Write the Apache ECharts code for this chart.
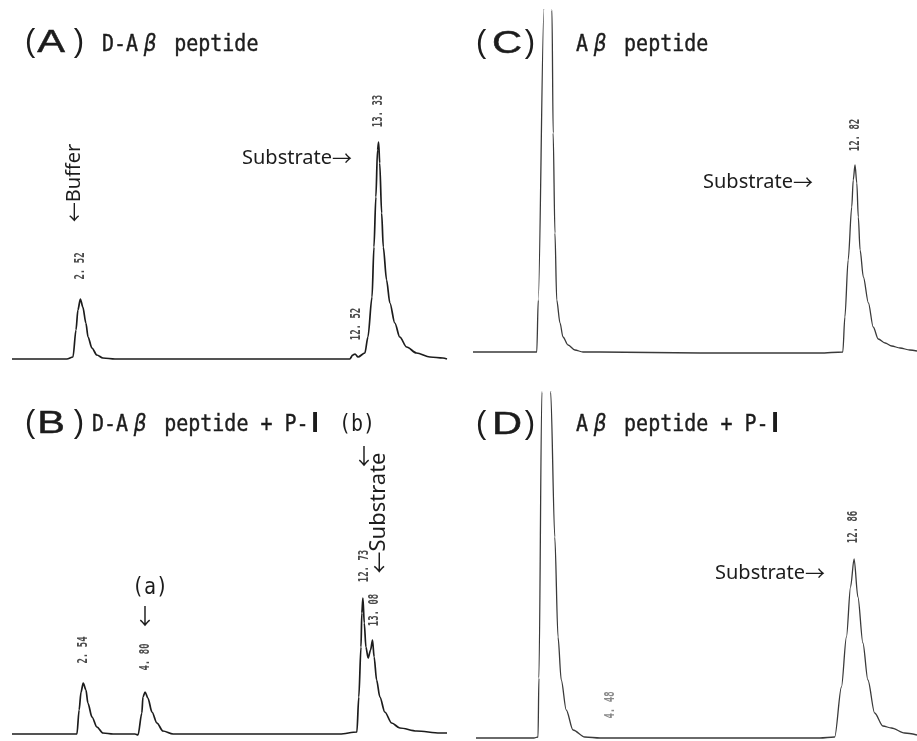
<!DOCTYPE html>
<html>
<head>
<meta charset="utf-8">
<script src="https://cdn.jsdelivr.net/npm/echarts@6/dist/echarts.min.js"></script>
<style>
  html, body { margin: 0; padding: 0; background: #ffffff; }
  #chart { width: 917px; height: 741px; }
</style>
</head>
<body>
<div id="chart"></div>
<script>
// ---- Data (retention time in min, detector response in arbitrary units) ----
const traceA = [[0,0],[2.00,0],[2.22,2],[2.33,29],[2.40,49],[2.49,60],[2.58,52],[2.69,36],[2.77,22],[2.91,11],[3.09,4],[3.31,1],[3.75,0],
  [11.94,0],[12.30,0],[12.41,4],[12.49,5],[12.60,2],[12.85,6],[12.96,22],[13.11,62],[13.18,112],[13.25,162],[13.31,209],[13.35,217],
  [13.39,196],[13.46,146],[13.52,112],[13.64,79],[13.76,56],[13.94,36],[14.12,22],[14.37,12],[14.73,6],[15.22,2],[15.69,1],[15.84,0]];
const traceB = [[0,0],[2.19,0],[2.37,0],[2.45,24],[2.52,42],[2.60,51],[2.70,44],[2.77,31],[2.92,17],[3.10,7],[3.32,1],[3.69,0],
  [4.49,0],[4.60,-1],[4.74,21],[4.78,37],[4.86,42],[4.96,36],[5.11,22],[5.29,11],[5.51,3],[5.88,0],
  [11.97,0],[12.59,2],[12.66,37],[12.74,87],[12.77,121],[12.81,136],[12.86,111],[12.92,87],[13.00,76],[13.09,84],[13.16,94],
  [13.22,77],[13.31,54],[13.43,37],[13.61,22],[13.86,11],[14.16,6],[14.77,3],[15.62,1],[15.88,1]];
const traceC = [[0,0],[2.01,0],[2.14,0],[2.19,52],[2.38,342],[2.50,570],[2.65,342],[2.69,219],[2.75,119],[2.81,52],[2.92,29],
  [3.02,15],[3.19,7],[3.42,2],[3.69,0],[4.26,0],[7.62,-1],[11.64,-1],[12.41,0],[12.48,35],[12.59,92],[12.71,145],[12.76,172],
  [12.82,187],[12.88,169],[12.93,135],[12.99,102],[13.10,75],[13.27,49],[13.43,25],[13.60,13],[13.83,9],[14.05,6],[14.33,4],[14.66,2],[14.90,1]];
const traceD = [[0,0],[1.97,0],[2.11,1],[2.14,60],[2.24,346],[2.40,580],[2.54,346],[2.68,201],[2.79,101],[2.90,58],[3.07,28],
  [3.30,8],[3.70,1],[4.22,0],[11.70,0],[12.20,1],[12.43,51],[12.60,101],[12.74,151],[12.86,179],[12.99,141],[13.16,95],
  [13.33,58],[13.56,25],[13.84,12],[14.13,10],[14.58,5],[15.00,3]];

const panelLetters = ['A', 'B', 'C', 'D'];
const panelTitles = ['D-Aβ peptide', 'D-Aβ peptide + P-Ⅰ', 'Aβ peptide', 'Aβ peptide + P-Ⅰ'];
const rtLabelsA = ['2. 52', '12. 52', '13. 33'];
const rtLabelsB = ['2. 54', '4. 80', '12. 73', '13. 08'];
const rtLabelsC = ['12. 82'];
const rtLabelsD = ['4. 48', '12. 86'];

// ---- Layout ----
const grids = [
  { left: 12,  top: 18,  width: 435, height: 351 },
  { left: 12,  top: 380, width: 435, height: 361 },
  { left: 473, top: 10,  width: 444, height: 352 },
  { left: 476, top: 392, width: 441, height: 349 }
];
const xRanges = [[0, 15.84], [0, 15.88], [0, 14.9], [0, 15.0]];
const yRanges = [[-10, 341], [-7, 354], [-10, 342], [-3, 346]];
const traces = [traceA, traceB, traceC, traceD];
const lineStyles = [
  { color: '#1c1c1c', width: 1.7 },
  { color: '#1c1c1c', width: 1.7 },
  { color: '#3a3a3a', width: 1.3 },
  { color: '#3a3a3a', width: 1.3 }
];

const MONO = '"DejaVu Sans Mono", "Liberation Mono", monospace';
const SANS = '"Noto Sans", "Liberation Sans", sans-serif';
const CJK = '"Noto Sans CJK JP", "Noto Sans", sans-serif';
const INK = '#1c1c1c';

function text(x, y, str, style, el) {
  return Object.assign({
    type: 'text', x: x, y: y, silent: true,
    style: Object.assign({ text: str, fill: INK, align: 'center', verticalAlign: 'middle' }, style)
  }, el || {});
}

function heading(letterIdx, parenLeft, letterX, parenRight, midY) {
  const f = { fontFamily: '"Liberation Sans", sans-serif', fontSize: 31 };
  return [
    text(parenLeft, midY - 1, '(', Object.assign({ align: 'left' }, f)),
    text(letterX, midY, panelLetters[letterIdx],
      Object.assign({}, f, { fontSize: 32, stroke: INK, lineWidth: 0.5 }), { scaleX: 1.3 }),
    text(parenRight, midY - 1, ')', Object.assign({ align: 'right' }, f))
  ];
}

function title(idx, left, midY) {
  const s = panelTitles[idx];
  const k = s.indexOf('β');
  let rest = s.slice(k + 1);
  let tail = '';
  const r = rest.indexOf('Ⅰ');
  if (r >= 0) { tail = '{r|Ⅰ}'; rest = rest.slice(0, r); }
  const rich = '{m|' + s.slice(0, k) + '}{g|β}{m|' + rest + '}' + tail;
  const base = { fontFamily: MONO, fontSize: 20, fill: INK, stroke: INK, lineWidth: 0.35 };
  return text(left, midY, rich, {
    align: 'left',
    rich: {
      m: base,
      g: Object.assign({}, base, { fontFamily: '"DejaVu Sans", sans-serif', fontStyle: 'italic', width: 24, align: 'center' }),
      r: Object.assign({}, base, { fontFamily: '"Liberation Serif", serif', fontWeight: 'bold', fontSize: 21, width: 12, align: 'center', lineWidth: 1 })
    }
  }, { scaleY: 1.15 });
}

// label with a CJK (long) arrow before or after the word
function arrowLabel(x, y, word, arrow, arrowFirst, size, align, el) {
  const rich = arrowFirst ? '{a|' + arrow + '}{w|' + word + '}' : '{w|' + word + '}{a|' + arrow + '}';
  return text(x, y, rich, {
    align: align,
    rich: {
      w: { fontFamily: SANS, fontSize: size, fill: INK },
      a: { fontFamily: CJK, fontSize: size, fill: INK }
    }
  }, el);
}

function rt(x, y, str, color) {
  return text(x, y, str, { fontFamily: MONO, fontWeight: 'bold', fontSize: 9, fill: color || '#4a4a4a' },
    { rotation: Math.PI / 2, scaleY: 1.5 });
}

const V = { rotation: Math.PI / 2 };

const graphics = [].concat(
  heading(0, 25, 51, 84, 43),
  heading(1, 25, 51, 84, 424),
  heading(2, 476, 507, 535, 44),
  heading(3, 476, 507, 535, 425),
  [
    title(0, 102, 45),
    title(1, 92, 425),
    title(2, 576, 45),
    title(3, 576, 425),
    // panel A notes
    arrowLabel(242, 158, 'Substrate', '→', false, 20, 'left'),
    arrowLabel(74, 183, 'Buffer', '←', true, 20, 'center', V),
    rt(80, 266, rtLabelsA[0]),
    rt(356, 324, rtLabelsA[1]),
    rt(378, 111, rtLabelsA[2]),
    // panel B notes
    text(150, 588, '(a)', { fontFamily: MONO, fontSize: 20 }, { scaleY: 1.15 }),
    text(145, 616, '↓', { fontFamily: CJK, fontSize: 22 }),
    text(357, 425, '(b)', { fontFamily: MONO, fontSize: 20 }, { scaleY: 1.15 }),
    text(364, 456, '↓', { fontFamily: CJK, fontSize: 22 }),
    arrowLabel(379, 513, 'Substrate', '←', true, 22, 'center', V),
    rt(83, 650, rtLabelsB[0]),
    rt(145, 657, rtLabelsB[1]),
    rt(364, 566, rtLabelsB[2]),
    rt(374, 610, rtLabelsB[3]),
    // panel C notes
    arrowLabel(703, 182, 'Substrate', '→', false, 20, 'left'),
    rt(855, 135, rtLabelsC[0]),
    // panel D notes
    arrowLabel(715, 573, 'Substrate', '→', false, 20, 'left'),
    rt(610, 705, rtLabelsD[0], '#8a8a8a'),
    rt(853, 527, rtLabelsD[1])
  ]
);

const chart = echarts.init(document.getElementById('chart'), null, { renderer: 'canvas' });
chart.setOption({
  animation: false,
  backgroundColor: '#ffffff',
  grid: grids.map(g => Object.assign({ containLabel: false }, g)),
  xAxis: grids.map((g, i) => ({ type: 'value', gridIndex: i, min: xRanges[i][0], max: xRanges[i][1], show: false })),
  yAxis: grids.map((g, i) => ({ type: 'value', gridIndex: i, min: yRanges[i][0], max: yRanges[i][1], show: false })),
  series: traces.map((d, i) => ({
    type: 'line', xAxisIndex: i, yAxisIndex: i, data: d,
    showSymbol: false, symbol: 'none', smooth: 0.3, smoothMonotone: 'x', clip: true,
    lineStyle: lineStyles[i]
  })),
  graphic: graphics
});
</script>
</body>
</html>
